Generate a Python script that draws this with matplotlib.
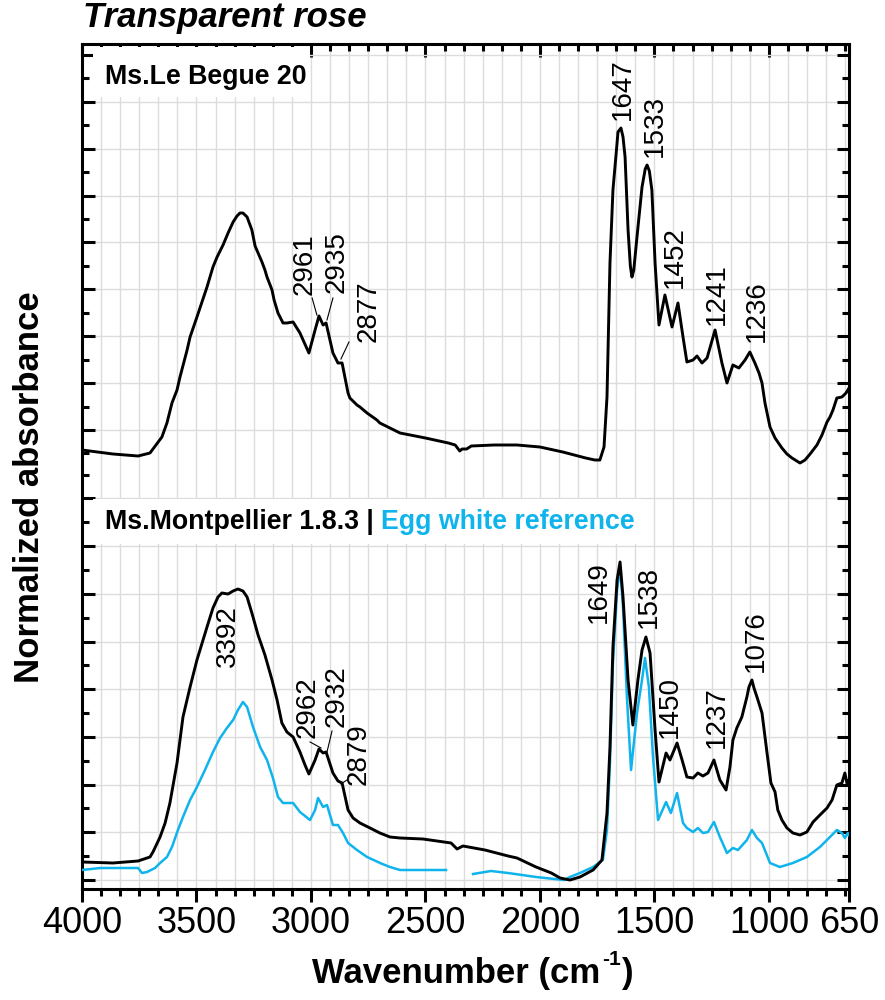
import matplotlib
matplotlib.use('Agg')
import matplotlib.pyplot as plt
import numpy as np
from matplotlib.patches import Rectangle
from matplotlib.text import Annotation
from matplotlib.ticker import FixedLocator, NullFormatter

plt.rcParams['font.family'] = ['Liberation Sans', 'DejaVu Sans']

# ---------------- text ----------------
TITLE = "Transparent rose"
TOP_LABEL = "Ms.Le Begue 20"
BOT_LABEL_BLACK = "Ms.Montpellier 1.8.3 |"
BOT_LABEL_BLUE = "Egg white reference"
XLABEL_MAIN = "Wavenumber (cm"
XLABEL_SUP = "-1"
XLABEL_END = ")"
YLABEL = "Normalized absorbance"

x_major = [4000, 3500, 3000, 2500, 2000, 1500, 1000, 650]
x_major_labels = ["4000", "3500", "3000", "2500", "2000", "1500", "1000", "650"]

# ---------------- data (arbitrary normalized units) ----------------
top_wn = [4000, 3865, 3755, 3703, 3651, 3629, 3607, 3585, 3572, 3541, 3528, 3498, 3454, 3428,
          3410, 3384, 3362, 3340, 3323, 3310, 3297, 3279, 3258, 3244, 3214, 3201, 3192, 3170,
          3161, 3144, 3122, 3105, 3078, 3048, 3009, 2982, 2965, 2947, 2934, 2904, 2882, 2864,
          2838, 2830, 2799, 2786, 2755, 2712, 2699, 2655, 2611, 2500, 2400, 2370, 2350, 2340,
          2320, 2300, 2200, 2100, 2000, 1900, 1800, 1760, 1738, 1720, 1707, 1694, 1681, 1663,
          1659, 1646, 1637, 1628, 1615, 1605, 1598, 1590, 1576, 1554, 1540, 1532, 1522, 1511,
          1497, 1480, 1454, 1423, 1397, 1375, 1358, 1331, 1314, 1292, 1270, 1235, 1205, 1183,
          1157, 1131, 1104, 1083, 1061, 1043, 1030, 1017, 995, 973, 943, 921, 899, 864,
          842, 820, 790, 768, 746, 733, 720, 703, 681, 663, 655, 650]
top_abs = [16, 12, 10, 13, 29, 43, 63, 76, 89, 116, 129, 149, 179, 199,
           209, 221, 233, 244, 250, 253, 253, 249, 236, 220, 204, 196, 189, 176,
           166, 153, 143, 143, 144, 133, 113, 136, 150, 141, 143, 113, 103, 103,
           73, 68, 61, 59, 53, 46, 43, 38, 33, 28, 23, 21, 15, 17,
           17, 20, 21, 21, 19, 14, 8, 6, 6, 19, 69, 203, 276, 323,
           334, 338, 329, 309, 236, 200, 189, 196, 229, 279, 297, 301, 295, 276,
           203, 141, 171, 139, 163, 129, 104, 106, 110, 103, 108, 136, 103, 83,
           101, 98, 106, 114, 103, 93, 83, 63, 39, 28, 18, 12, 8, 3,
           6, 12, 21, 31, 44, 49, 56, 68, 69, 73, 76, 78]

bot_wn = [4000, 3865, 3755, 3703, 3690, 3659, 3637, 3616, 3585, 3559, 3528, 3498, 3454, 3428,
          3406, 3389, 3362, 3340, 3319, 3297, 3279, 3258, 3231, 3201, 3170, 3148, 3127, 3105,
          3078, 3048, 3026, 3009, 2982, 2965, 2947, 2934, 2904, 2882, 2864, 2838, 2816, 2786,
          2742, 2699, 2655, 2611, 2511, 2388, 2362, 2336, 2240, 2139, 2100, 2017, 1950, 1912,
          1869, 1825, 1768, 1729, 1707, 1694, 1681, 1663, 1650, 1637, 1615, 1594, 1572, 1554,
          1537, 1519, 1497, 1480, 1449, 1432, 1401, 1379, 1358, 1331, 1310, 1288, 1266, 1240,
          1214, 1187, 1170, 1157, 1140, 1118, 1096, 1087, 1074, 1065, 1052, 1030, 1008, 991,
          973, 961, 943, 921, 895, 864, 834, 807, 777, 746, 724, 703, 681, 668, 659, 650]
bot_abs = [27, 26, 28, 32, 37, 52, 66, 86, 126, 172, 202, 229, 262, 281,
           292, 296, 295, 298, 300, 298, 292, 276, 254, 234, 209, 189, 166, 157,
           152, 137, 124, 115, 129, 140, 136, 137, 116, 108, 106, 79, 71, 66,
           61, 56, 52, 51, 50, 46, 40, 43, 39, 33, 31, 22, 16, 11,
           9, 12, 19, 29, 76, 142, 242, 309, 327, 292, 209, 164, 209, 239,
           252, 236, 159, 107, 136, 129, 146, 129, 112, 111, 116, 113, 116, 129,
           109, 99, 122, 149, 161, 172, 192, 202, 209, 201, 192, 176, 136, 106,
           97, 79, 69, 61, 56, 54, 57, 67, 74, 81, 89, 104, 106, 116, 106, 109]

egg_wn_a = [4000, 3921, 3755, 3738, 3716, 3681, 3659, 3629, 3607, 3581, 3559, 3528, 3498, 3463,
            3428, 3397, 3367, 3340, 3319, 3297, 3279, 3253, 3222, 3192, 3166, 3144, 3122, 3078,
            3048, 3004, 2982, 2969, 2947, 2930, 2904, 2882, 2860, 2838, 2799, 2755, 2698, 2655,
            2611, 2500, 2410]
egg_abs_a = [19, 21, 21, 16, 17, 21, 26, 32, 42, 59, 72, 89, 102, 119,
             137, 151, 161, 169, 179, 187, 182, 162, 142, 129, 111, 92, 86, 86,
             77, 69, 79, 91, 82, 84, 64, 64, 56, 46, 39, 32, 26, 22,
             19, 19, 19]
egg_wn_b = [2292, 2214, 2139, 2017, 1895, 1869, 1825, 1768, 1725, 1707, 1694, 1681, 1663, 1650,
            1637, 1620, 1602, 1576, 1554, 1541, 1524, 1506, 1484, 1449, 1428, 1401, 1375, 1358,
            1331, 1310, 1288, 1266, 1240, 1214, 1183, 1157, 1135, 1096, 1074, 1052, 1030, 995,
            952, 895, 834, 777, 733, 703, 681, 668, 655, 650]
egg_abs_b = [15, 18, 16, 12, 9, 12, 16, 22, 29, 59, 126, 226, 299, 322,
             282, 192, 119, 176, 209, 231, 202, 132, 69, 87, 76, 96, 66, 61,
             57, 61, 56, 57, 67, 52, 36, 41, 39, 49, 59, 51, 46, 26,
             22, 26, 32, 42, 52, 59, 56, 51, 56, 54]

top_peak_labels = ["2961", "2935", "2877", "1647", "1533", "1452", "1241", "1236"]
bot_peak_labels = ["3392", "2962", "2932", "2879", "1649", "1538", "1450", "1237", "1076"]

# ---------------- style / layout ----------------
BLUE = '#0fb4ec'
W, H = 885, 1000
fig = plt.figure(figsize=(W / 100, H / 100), dpi=100)
L, R = 82, 849
axT = fig.add_axes([L / W, 1 - 466 / H, (R - L) / W, 422 / H])
axB = fig.add_axes([L / W, 1 - 889 / H, (R - L) / W, 423 / H])

x_minor = [v for v in np.arange(4000, 649, -500 / 6) if all(abs(v - m) > 1 for m in x_major)]

top_major_y = 36 + 46.9 * np.arange(9)
top_minor_y = np.concatenate([[36 - 23.45], 36 + 23.45 + 46.9 * np.arange(8)])
bot_major_y = 9 + 47.7 * np.arange(9)
bot_minor_y = 9 + 23.85 + 47.7 * np.arange(9)

for ax, ylim, ymaj, ymin in [(axT, 422, top_major_y, top_minor_y),
                             (axB, 423, bot_major_y, bot_minor_y)]:
    ax.set_xlim(4000, 650)
    ax.set_ylim(0, ylim)
    ax.xaxis.set_major_locator(FixedLocator(x_major))
    ax.xaxis.set_minor_locator(FixedLocator(x_minor))
    ax.yaxis.set_major_locator(FixedLocator(ymaj))
    ax.yaxis.set_minor_locator(FixedLocator(ymin))
    ax.yaxis.set_major_formatter(NullFormatter())
    ax.grid(which='both', axis='x', color='#dcdcdc', lw=1.0, zorder=0)
    ax.grid(which='major', axis='y', color='#dcdcdc', lw=1.0, zorder=0)
    ax.set_axisbelow(True)
    for s in ax.spines.values():
        s.set_linewidth(2.2)
    ax.tick_params(axis='y', which='both', left=True, right=True, direction='in',
                   labelleft=False, width=2.2)
    ax.tick_params(axis='y', which='major', length=9)
    ax.tick_params(axis='y', which='minor', length=5)

axT.spines['bottom'].set_visible(False)
axB.spines['top'].set_visible(False)
axT.tick_params(axis='x', which='both', top=True, bottom=False, labeltop=False,
                labelbottom=False, direction='in', width=2.2)
axT.tick_params(axis='x', which='major', length=9)
axT.tick_params(axis='x', which='minor', length=5)
axB.tick_params(axis='x', which='both', top=False, bottom=True, direction='out', width=2.2)
axB.tick_params(axis='x', which='major', length=9, pad=3, labelsize=26)
axB.tick_params(axis='x', which='minor', length=5)
axB.set_xticklabels(x_major_labels)

# spectra
axT.plot(top_wn, top_abs, color='black', lw=2.1, zorder=4, solid_joinstyle='round')
axB.plot(egg_wn_a, egg_abs_a, color=BLUE, lw=1.8, zorder=3, solid_joinstyle='round')
axB.plot(egg_wn_b, egg_abs_b, color=BLUE, lw=1.8, zorder=3, solid_joinstyle='round')
axB.plot(bot_wn, bot_abs, color='black', lw=2.1, zorder=4, solid_joinstyle='round')

# label boxes
axT.add_patch(Rectangle((0.014, 0.874), 0.283, 0.119, transform=axT.transAxes,
                        fc='white', ec='none', zorder=1))
axB.add_patch(Rectangle((0.014, 0.8156), 0.716, 0.1064, transform=axB.transAxes,
                        fc='white', ec='none', zorder=1))
axT.text(0.030, 0.922, TOP_LABEL, transform=axT.transAxes, fontsize=19.3,
         fontweight='bold', va='center', ha='left', zorder=5)
t1 = axB.text(0.030, 0.8676, BOT_LABEL_BLACK, transform=axB.transAxes, fontsize=19.3,
              fontweight='bold', va='center', ha='left', zorder=5)
axB.annotate(BOT_LABEL_BLUE, xy=(1, 0), xycoords=t1, xytext=(5, 0),
             textcoords='offset points', fontsize=19.3, fontweight='bold',
             color=BLUE, va='bottom', ha='left', zorder=5)

# peak annotations (anchor = bottom centre of rotated text)
top_pos = [(3026, 171), (2886, 173), (2746, 124), (1637, 346), (1497, 309),
           (1410, 178), (1227, 141), (1052, 124)]
for lab, (x, y) in zip(top_peak_labels, top_pos):
    axT.text(x, y, lab, rotation=90, ha='center', va='bottom', fontsize=20, zorder=5)
for (x1, y1, x2, y2) in [(2995, 168, 2974, 151), (2904, 168, 2930, 146), (2834, 124, 2869, 107)]:
    axT.plot([x1, x2], [y1, y2], color='black', lw=0.8, zorder=5)

bot_pos = [(3362, 222), (3013, 151), (2886, 162), (2790, 104), (1742, 266),
           (1524, 261), (1432, 151), (1227, 141), (1056, 217)]
for lab, (x, y) in zip(bot_peak_labels, bot_pos):
    axB.text(x, y, lab, rotation=90, ha='center', va='bottom', fontsize=20, zorder=5)
for (x1, y1, x2, y2) in [(3004, 147, 2956, 141), (2908, 158, 2930, 137), (2843, 109, 2869, 105)]:
    axB.plot([x1, x2], [y1, y2], color='black', lw=0.8, zorder=5)

# titles / axis labels
fig.text(83 / W, 1 - 18 / H, TITLE, fontsize=25, fontweight='bold', style='italic',
         ha='left', va='center')
xa = fig.text(312 / W, 1 - 990 / H, XLABEL_MAIN, fontsize=25, fontweight='bold',
              ha='left', va='bottom')
sup = fig.add_artist(Annotation(
    XLABEL_SUP, xy=(1, 0), xycoords=xa, xytext=(1, 15), textcoords='offset points',
    fontsize=15, fontweight='bold', ha='left', va='bottom'))
fig.add_artist(Annotation(
    XLABEL_END, xy=(1, 0), xycoords=(sup, xa), xytext=(1, 0), textcoords='offset points',
    fontsize=25, fontweight='bold', ha='left', va='bottom'))
fig.text(30 / W, 1 - 487 / H, YLABEL, fontsize=25, fontweight='bold', rotation=90,
         ha='center', va='center')

fig.savefig('out.png', dpi=100)
